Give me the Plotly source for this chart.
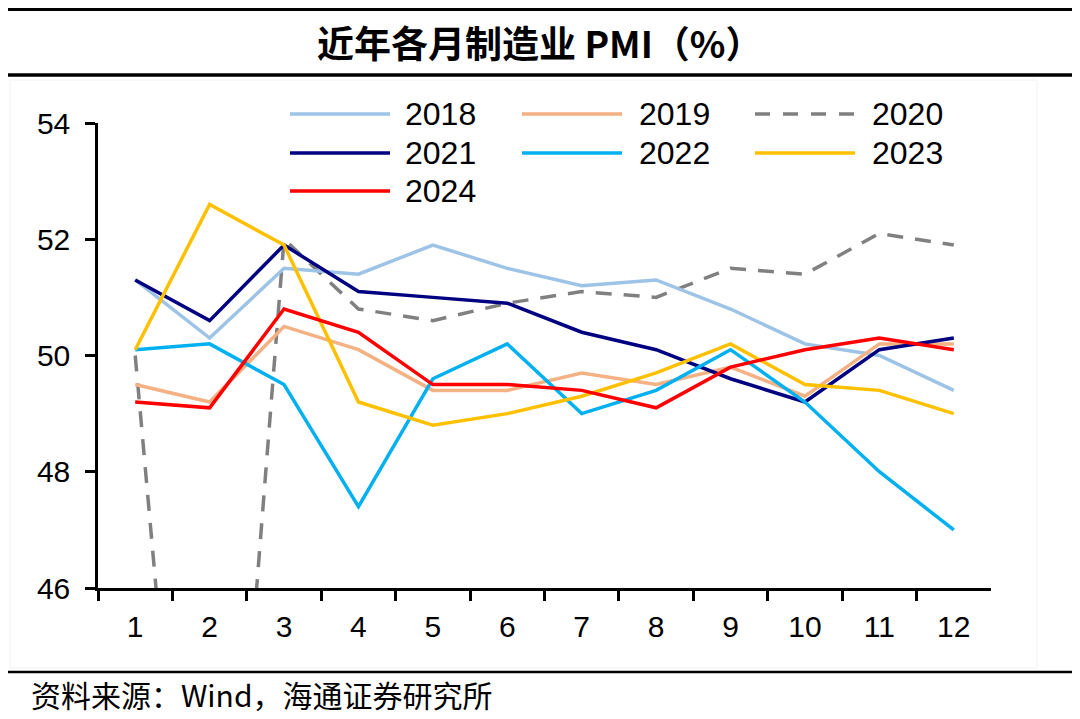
import plotly.graph_objects as go

months = ["1", "2", "3", "4", "5", "6", "7", "8", "9", "10", "11", "12"]
years = ["2018", "2019", "2020", "2021", "2022", "2023", "2024"]

pmi_2018 = [51.3, 50.3, 51.5, 51.4, 51.9, 51.5, 51.2, 51.3, 50.8, 50.2, 50.0, 49.4]
pmi_2019 = [49.5, 49.2, 50.5, 50.1, 49.4, 49.4, 49.7, 49.5, 49.8, 49.3, 50.2, 50.2]
pmi_2020 = [50.0, 35.7, 52.0, 50.8, 50.6, 50.9, 51.1, 51.0, 51.5, 51.4, 52.1, 51.9]
pmi_2021 = [51.3, 50.6, 51.9, 51.1, 51.0, 50.9, 50.4, 50.1, 49.6, 49.2, 50.1, 50.3]
pmi_2022 = [50.1, 50.2, 49.5, 47.4, 49.6, 50.2, 49.0, 49.4, 50.1, 49.2, 48.0, 47.0]
pmi_2023 = [50.1, 52.6, 51.9, 49.2, 48.8, 49.0, 49.3, 49.7, 50.2, 49.5, 49.4, 49.0]
pmi_2024 = [49.2, 49.1, 50.8, 50.4, 49.5, 49.5, 49.4, 49.1, 49.8, 50.1, 50.3, 50.1]

series = [pmi_2018, pmi_2019, pmi_2020, pmi_2021, pmi_2022, pmi_2023, pmi_2024]
colors = ["#9DC3E6", "#F4B183", "#808080", "#000080", "#00B0F0", "#FFC000", "#FF0000"]
dashes = ["solid", "solid", "16px,12px", "solid", "solid", "solid", "solid"]
y_ticks = [46, 48, 50, 52, 54]

# page body has an 8px margin: figure sized to fit the 1080x719 window
OFF = 8
W, H = 1080 - OFF, 719 - OFF
FONT = "Liberation Sans, Arial, sans-serif"
CJK = "Noto Sans CJK SC, sans-serif"

def px(x):
    return (x - OFF) / W

def py(y):
    return 1 - (y - OFF) / H

fig = go.Figure()
order = [2, 0, 1, 3, 4, 5, 6]
for i in order:
    fig.add_trace(go.Scatter(
        x=months, y=series[i], mode="lines", name=years[i],
        line=dict(color=colors[i], width=3.5, dash=dashes[i]),
        showlegend=False,
    ))

shapes = []
annotations = []

# manual legend (3 columns)
col_line_x = [(290, 390), (522, 622), (755, 855)]
col_text_x = [403, 637, 870]
row_y = [114, 153, 191]
for k, name in enumerate(years):
    r, c = divmod(k, 3)
    x0, x1 = col_line_x[c]
    shapes.append(dict(type="line", xref="paper", yref="paper",
                       x0=px(x0), x1=px(x1), y0=py(row_y[r]), y1=py(row_y[r]),
                       line=dict(color=colors[k], width=3.5,
                                 dash="15px,13px" if dashes[k] != "solid" else "solid")))
    annotations.append(dict(text=name, xref="paper", yref="paper",
                            x=px(col_text_x[c]), y=py(row_y[r]),
                            xanchor="left", yanchor="middle", showarrow=False,
                            font=dict(family=FONT, size=32, color="#000000")))

# frame lines
shapes.append(dict(type="line", xref="paper", yref="paper", x0=0, x1=1,
                   y0=py(9.5), y1=py(9.5), line=dict(color="#000000", width=3)))
shapes.append(dict(type="line", xref="paper", yref="paper", x0=0, x1=1,
                   y0=py(75), y1=py(75), line=dict(color="#000000", width=3.5)))
shapes.append(dict(type="line", xref="paper", yref="paper", x0=0, x1=1,
                   y0=py(672), y1=py(672), line=dict(color="#000000", width=2.5)))
shapes.append(dict(type="rect", xref="paper", yref="paper",
                   x0=px(10), x1=px(1037), y0=py(668), y1=py(80),
                   line=dict(color="#F2F2F2", width=1), layer="below"))

annotations.append(dict(text="<b>近年各月制造业 PMI（%）</b>", xref="paper", yref="paper",
                        x=px(539), y=py(42), xanchor="center", yanchor="middle",
                        showarrow=False, font=dict(family=CJK, size=37, color="#000000")))
annotations.append(dict(text="资料来源：Wind，海通证券研究所", xref="paper", yref="paper",
                        x=px(29), y=py(694), xanchor="left", yanchor="middle",
                        showarrow=False, font=dict(family=CJK, size=30, color="#000000")))

fig.update_layout(
    width=W, height=H,
    margin=dict(l=0, r=0, t=0, b=0, pad=0, autoexpand=False),
    paper_bgcolor="white", plot_bgcolor="white",
    shapes=shapes, annotations=annotations,
    xaxis=dict(
        domain=[px(98), px(991)],
        type="category", tickson="boundaries", range=[-0.5, 11.5],
        showline=True, linecolor="#000000", linewidth=2.5,
        ticks="outside", ticklen=10, tickwidth=2.5, tickcolor="#000000",
        ticklabelstandoff=10,
        showgrid=False, zeroline=False, automargin=False,
        tickfont=dict(family=FONT, size=30, color="#000000"),
    ),
    yaxis=dict(
        domain=[py(588), py(123)],
        range=[46, 54], tickvals=y_ticks,
        showline=True, linecolor="#000000", linewidth=2.5,
        ticks="outside", ticklen=10, tickwidth=2.5, tickcolor="#000000",
        ticklabelstandoff=9,
        showgrid=False, zeroline=False, automargin=False,
        tickfont=dict(family=FONT, size=30, color="#000000"),
    ),
)

fig.write_html("out.html")
